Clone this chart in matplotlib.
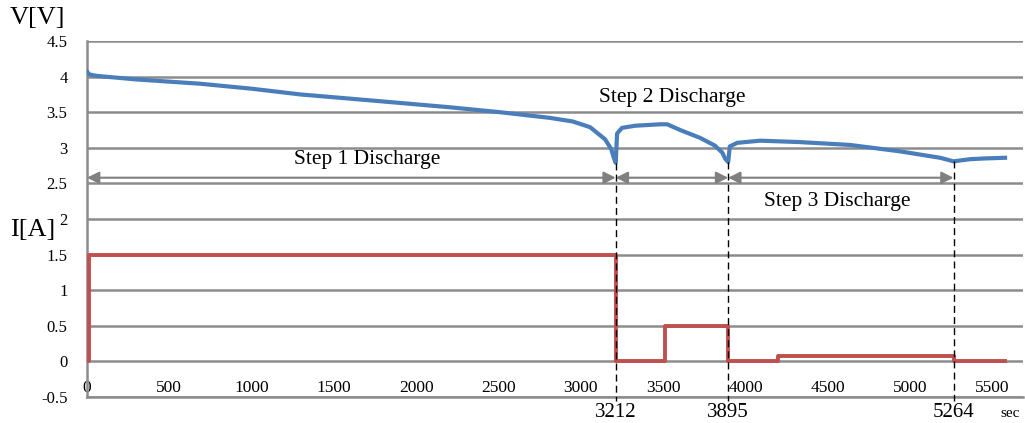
import matplotlib.pyplot as plt

# voltage trace (sec, V)
vTime = [0, 15, 60, 300, 687, 1000, 1294, 1600, 1902, 2200, 2509, 2813, 2950, 3056,
         3147, 3185, 3200, 3212, 3220, 3250, 3330, 3480, 3525, 3603, 3724, 3815, 3860,
         3876, 3895, 3905, 3950, 4089, 4332, 4635, 4939, 5182, 5264, 5365, 5450, 5577]
vVolt = [4.07, 4.03, 4.01, 3.96, 3.90, 3.83, 3.75, 3.69, 3.63, 3.57, 3.50, 3.42, 3.37, 3.29,
         3.12, 2.98, 2.86, 2.79, 3.20, 3.28, 3.31, 3.33, 3.33, 3.25, 3.14, 3.03, 2.93,
         2.85, 2.80, 3.02, 3.07, 3.10, 3.08, 3.04, 2.95, 2.86, 2.81, 2.84, 2.85, 2.86]

# current steps (sec, A)
iTime = [0, 15, 15, 3212, 3212, 3511, 3511, 3895, 3895, 4198, 4198, 5264, 5264, 5577]
iAmp = [0, 0, 1.5, 1.5, 0, 0, 0.5, 0.5, 0, 0, 0.08, 0.08, 0, 0]

stepEdges = [0, 3212, 3895, 5264]
stepNames = ["Step 1 Discharge", "Step 2 Discharge", "Step 3 Discharge"]
stepTextPos = [(1700, 2.83), (3555, 3.71), (4560, 2.25)]
markVolt = [2.79, 2.80, 2.81]

yTicks = [-0.5, 0, 0.5, 1, 1.5, 2, 2.5, 3, 3.5, 4, 4.5]
yTickLabels = ["-0.5", "0", "0.5", "1", "1.5", "2", "2.5", "3", "3.5", "4", "4.5"]
xTicks = [0, 500, 1000, 1500, 2000, 2500, 3000, 3500, 4000, 4500, 5000, 5500]

plt.rcParams['font.family'] = ['Liberation Serif', 'DejaVu Serif']

fig = plt.figure(figsize=(10.25, 4.23), dpi=100)
ax = fig.add_axes([87 / 1025, 26 / 423, 936 / 1025, 356 / 423])
ax.set_xlim(0, 5686)
ax.set_ylim(-0.5, 4.5)

gridCol = "#8c8c8c"
for y in yTicks:
    ax.axhline(y, color=gridCol, lw=1.8, zorder=1)
for s in ["top", "right"]:
    ax.spines[s].set_visible(False)
ax.spines["left"].set_color(gridCol)
ax.spines["left"].set_linewidth(1.8)
ax.spines["bottom"].set_color(gridCol)
ax.spines["bottom"].set_linewidth(1.8)

ax.plot(vTime, vVolt, color="#4a7ebb", lw=3, zorder=3, solid_joinstyle="round")
ax.plot(iTime, iAmp, color="#c0504d", lw=2.8, zorder=3)

ax.set_yticks(yTicks)
ax.set_yticklabels(yTickLabels, fontsize=12)
ax.tick_params(axis="y", length=0, pad=14)
ax.set_xticks(xTicks)
ax.set_xticklabels([str(t) for t in xTicks], fontsize=12.5)
ax.tick_params(axis="x", length=0, pad=-12.5)

# step arrows
for i in range(3):
    ax.annotate("", xy=(stepEdges[i], 2.58), xytext=(stepEdges[i + 1], 2.58),
                arrowprops=dict(arrowstyle="<|-|>", color="#808080", lw=1.5,
                                mutation_scale=18, shrinkA=0, shrinkB=0), zorder=2)
    ax.text(stepTextPos[i][0], stepTextPos[i][1], stepNames[i], fontsize=15.5,
            ha="center", va="center", zorder=4)

# dashed markers
for t, v in zip(stepEdges[1:], markVolt):
    ax.plot([t, t], [v, -0.55], color="black", lw=1, ls=(0, (5, 3)),
            clip_on=False, zorder=4)
    ax.text(t, -0.58, str(t), fontsize=15, ha="center", va="top")

fig.text(10 / 1025, 1 - 18 / 423, "V[V]", fontsize=19, va="center")
fig.text(10 / 1025, 1 - 230 / 423, "I[A]", fontsize=19, va="center")
fig.text(1010 / 1025, 1 - 413 / 423, "sec", fontsize=11, ha="center", va="center")

fig.savefig("out.png", dpi=100)
